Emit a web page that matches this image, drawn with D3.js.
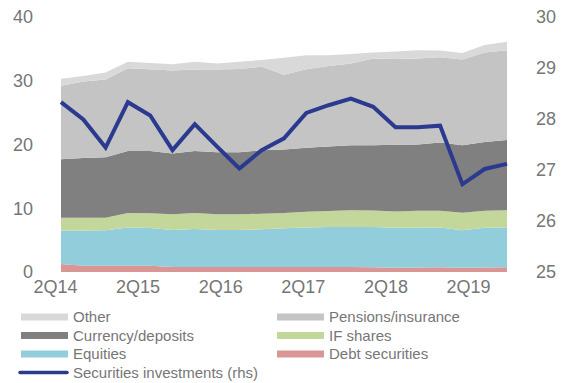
<!DOCTYPE html>
<html>
<head>
<meta charset="utf-8">
<script src="https://cdn.jsdelivr.net/npm/d3@7"></script>
<style>
  html, body { margin: 0; padding: 0; background: #ffffff; }
  svg { display: block; font-family: "Liberation Sans", Arial, sans-serif; }
</style>
</head>
<body>
<svg id="chart" width="567" height="383"></svg>
<script>
// Quarterly household financial assets by instrument (lhs) and securities investments (rhs)
const quarters = ["2Q14","3Q14","4Q14","1Q15","2Q15","3Q15","4Q15","1Q16","2Q16","3Q16","4Q16",
                  "1Q17","2Q17","3Q17","4Q17","1Q18","2Q18","3Q18","4Q18","1Q19","2Q19"];
const tickLabels = ["2Q14","2Q15","2Q16","2Q17","2Q18","2Q19"];
const leftTicks = [0, 10, 20, 30, 40];
const rightTicks = [25, 26, 27, 28, 29, 30];

const debtSecurities = [1.25,1.0,1.0,1.0,1.0,0.8,0.8,0.8,0.8,0.8,0.8,0.8,0.8,0.8,0.75,0.65,0.7,0.75,0.65,0.7,0.75];
const equities       = [5.25,5.5,5.55,6.0,5.9,5.8,5.95,5.8,5.8,5.9,6.05,6.2,6.25,6.25,6.3,6.3,6.25,6.25,5.9,6.25,6.25];
const ifShares       = [2.0,2.0,1.95,2.25,2.3,2.45,2.5,2.45,2.45,2.45,2.4,2.45,2.5,2.65,2.6,2.55,2.65,2.6,2.75,2.65,2.7];
const currencyDeposits = [9.2,9.4,9.5,9.75,9.8,9.55,9.75,9.75,9.75,9.95,9.95,10.05,10.15,10.2,10.25,10.45,10.4,10.7,10.6,10.8,11.0];
const pensionsInsurance = [11.5,12.0,12.2,12.95,12.8,13.0,12.75,12.95,13.05,13.1,11.75,12.3,12.6,12.8,13.6,13.45,13.5,13.4,13.45,14.05,14.1];
const other          = [1.1,0.85,1.1,1.05,1.0,1.0,1.25,0.95,1.15,1.05,2.65,2.2,1.7,1.5,0.95,1.2,1.3,1.05,1.0,1.15,1.3];
const securitiesInvestments = [28.33,27.99,27.44,28.33,28.07,27.39,27.9,27.46,27.03,27.39,27.62,28.12,28.27,28.4,28.24,27.84,27.84,27.87,26.72,27.02,27.12];

const seriesNames = ["Debt securities","Equities","IF shares","Currency/deposits","Pensions/insurance","Other"];
const seriesColors = {
  "Debt securities": "#da9694",
  "Equities": "#92cddc",
  "IF shares": "#c4d79b",
  "Currency/deposits": "#808080",
  "Pensions/insurance": "#c4c4c4",
  "Other": "#d9d9d9"
};
const lineColor = "#2b3a8f";
const textColor = "#767676";

const rows = quarters.map((q, i) => ({
  q,
  "Debt securities": debtSecurities[i],
  "Equities": equities[i],
  "IF shares": ifShares[i],
  "Currency/deposits": currencyDeposits[i],
  "Pensions/insurance": pensionsInsurance[i],
  "Other": other[i],
  rhs: securitiesInvestments[i]
}));

const svg = d3.select("#chart");

const x = d3.scalePoint().domain(quarters).range([61, 507]);
const xLabel = d3.scalePoint().domain(tickLabels).range([55, 468]);
const yL = d3.scaleLinear().domain([0, 40]).range([272, 17]);
const yR = d3.scaleLinear().domain([25, 30]).range([272, 17]);

const stacked = d3.stack().keys(seriesNames)(rows);

const area = d3.area()
  .x(d => x(d.data.q))
  .y0(d => yL(d[0]))
  .y1(d => yL(d[1]));

svg.append("g").selectAll("path")
  .data(stacked)
  .join("path")
  .attr("d", area)
  .attr("fill", d => seriesColors[d.key]);

const line = d3.line()
  .x(d => x(d.q))
  .y(d => yR(d.rhs));

svg.append("path")
  .datum(rows)
  .attr("d", line)
  .attr("fill", "none")
  .attr("stroke", lineColor)
  .attr("stroke-width", 4)
  .attr("stroke-linejoin", "miter");

const fontFamily = "'Liberation Sans', Arial, sans-serif";

// Left axis
const leftAxis = d3.axisLeft(yL).tickValues(leftTicks).tickFormat(d3.format("d")).tickSize(0).tickPadding(0);
const gL = svg.append("g").attr("transform", "translate(33,0)").call(leftAxis);
gL.select(".domain").remove();
gL.selectAll("text").attr("fill", textColor).style("font-size", "18px").style("font-family", fontFamily);

// Right axis
const rightAxis = d3.axisRight(yR).tickValues(rightTicks).tickFormat(d3.format("d")).tickSize(0).tickPadding(0);
const gR = svg.append("g").attr("transform", "translate(536,0)").call(rightAxis);
gR.select(".domain").remove();
gR.selectAll("text").attr("fill", textColor).style("font-size", "18px").style("font-family", fontFamily);

// Bottom axis
const bottomAxis = d3.axisBottom(xLabel).tickSize(0).tickPadding(0);
const gB = svg.append("g").attr("transform", "translate(0,280)").call(bottomAxis);
gB.select(".domain").remove();
gB.selectAll("text").attr("fill", textColor).style("font-size", "18px")
  .attr("dy", "0.71em").style("font-family", fontFamily);

// Legend
const legendItems = [
  { name: "Other", col: 0, row: 0 },
  { name: "Pensions/insurance", col: 1, row: 0 },
  { name: "Currency/deposits", col: 0, row: 1 },
  { name: "IF shares", col: 1, row: 1 },
  { name: "Equities", col: 0, row: 2 },
  { name: "Debt securities", col: 1, row: 2 }
];
const colX = [21, 277];
const rowY = [317, 335.5, 354, 372.5];

const lg = svg.append("g");
legendItems.forEach(it => {
  const g = lg.append("g");
  g.append("rect")
    .attr("x", colX[it.col]).attr("y", rowY[it.row] - 3.5)
    .attr("width", 47).attr("height", 7)
    .attr("fill", seriesColors[it.name]);
  g.append("text")
    .attr("x", colX[it.col] + 52).attr("y", rowY[it.row])
    .attr("dy", "0.35em")
    .attr("fill", textColor)
    .style("font-size", "15px")
    .text(it.name);
});
lg.append("line")
  .attr("x1", 20).attr("x2", 67)
  .attr("y1", rowY[3]).attr("y2", rowY[3])
  .attr("stroke", lineColor).attr("stroke-width", 3.5)
  .attr("stroke-linecap", "round");
lg.append("text")
  .attr("x", 73).attr("y", rowY[3])
  .attr("dy", "0.35em")
  .attr("fill", textColor)
  .style("font-size", "15px")
  .text("Securities investments (rhs)");
</script>
</body>
</html>
